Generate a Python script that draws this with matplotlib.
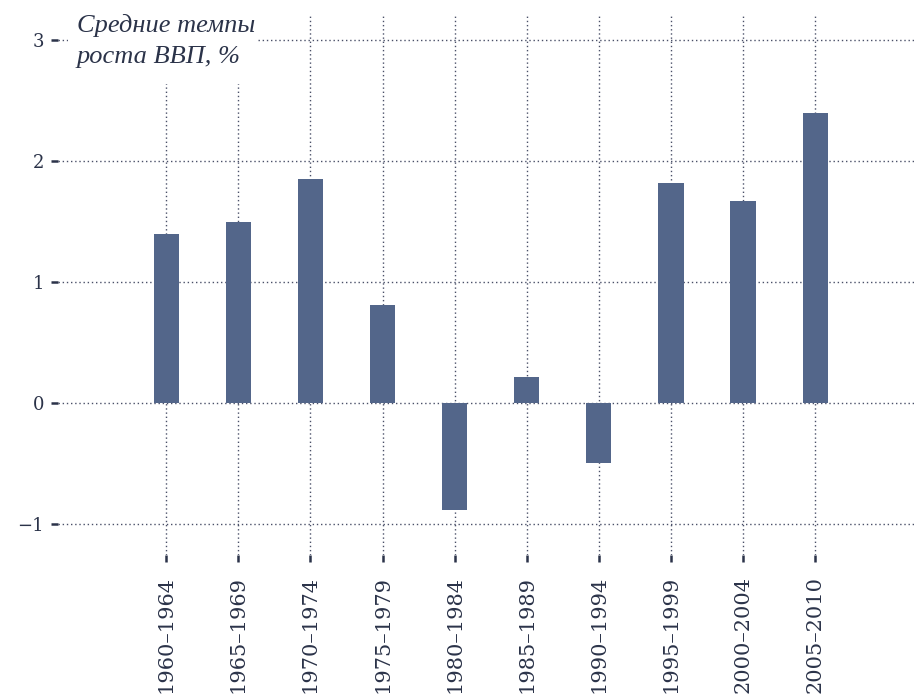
import numpy as np
import matplotlib.pyplot as plt
from matplotlib.patches import Rectangle

periods = ['1960–1964', '1965–1969', '1970–1974', '1975–1979', '1980–1984',
           '1985–1989', '1990–1994', '1995–1999', '2000–2004', '2005–2010']
growth = [1.40, 1.50, 1.85, 0.81, -0.89, 0.21, -0.50, 1.82, 1.67, 2.40]
y_ticks = [-1, 0, 1, 2, 3]

ink = '#2b3349'
grid_col = '#4a5068'
bar_col = '#53668a'

fig = plt.figure(figsize=(9.14, 6.94), dpi=100)
ax = fig.add_axes([58 / 914, 139 / 694, 856 / 914, 540 / 694])

x = np.arange(len(periods))
ax.bar(x, growth, width=0.35, color=bar_col, zorder=3)

ax.set_xlim(-1.50, 10.37)
ax.set_ylim(-1.26, 3.21)
ax.set_xticks(x)
ax.set_xticklabels(periods, rotation=90, family='DejaVu Serif', fontsize=15, color=ink)
ax.set_yticks(y_ticks)
ax.set_yticklabels(['−1', '0', '1', '2', '3'], family='DejaVu Serif', fontsize=13, color=ink)

ax.grid(True, linestyle=(0, (1, 2)), linewidth=1.0, color=grid_col)
ax.set_axisbelow(True)
for s in ax.spines.values():
    s.set_visible(False)
ax.tick_params(axis='y', length=5, width=1.8, color=ink, pad=5)
ax.tick_params(axis='x', length=5, width=1.8, color=ink, pad=10)

# white patch behind the title, hides the grid there
fig.add_artist(Rectangle((68 / 914, 610 / 694), 188 / 914, 84 / 694,
                         transform=fig.transFigure, facecolor='white',
                         edgecolor='none', zorder=2))
fig.text(77 / 914, 1 - 14 / 694, 'Средние темпы\nроста ВВП, %', ha='left', va='top',
         family='Liberation Serif', style='italic', fontsize=19, color=ink,
         linespacing=1.5, zorder=3)

fig.savefig('out.png', dpi=100)
